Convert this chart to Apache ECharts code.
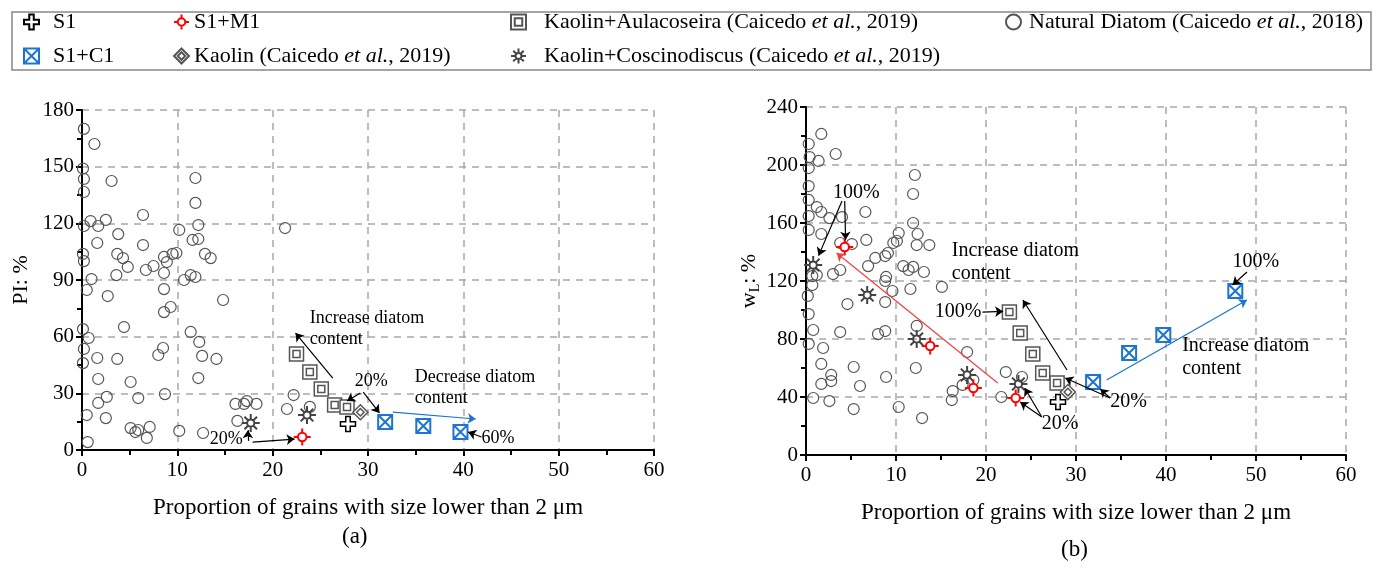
<!DOCTYPE html>
<html>
<head>
<meta charset="utf-8">
<script src="https://cdn.jsdelivr.net/npm/echarts@6/dist/echarts.min.js"></script>
<style>
  html, body { margin: 0; padding: 0; background: #fff; }
  #main { width: 1384px; height: 569px; }
</style>
</head>
<body>
<div id="main"></div>
<script>
// data: [proportion < 2 μm, value]
var natA = [[0.2,170],[1.3,162],[0.1,149],[0.2,143.5],[0.2,136.6],[3.1,142.4],[11.9,144],[11.9,130.8],[6.4,124.4],[0.2,118.6],[0.9,121.2],[1.7,118.6],[2.5,121.8],[3.8,114.3],[10.2,116.5],[12.2,119.1],[11.6,111.2],[12.2,111.7],[1.6,109.6],[6.4,108.5],[0.1,103.8],[0.2,100],[3.7,103.8],[4.3,101.6],[4.8,96.9],[8.6,102.2],[8.9,99.5],[9.5,103.8],[9.9,104.3],[7.5,97.4],[6.7,95.3],[8.6,93.7],[12.9,103.8],[13.5,101.6],[1.0,90.5],[3.6,92.6],[10.7,90],[11.4,92.6],[11.9,91.6],[21.3,117.5],[0.5,84.7],[8.6,85.2],[2.7,81.5],[9.3,75.7],[8.6,73],[14.8,79.4],[4.4,65.1],[0.1,64],[0.7,59.3],[0.2,53.5],[0.1,46],[1.6,48.7],[3.7,48.2],[11.4,62.5],[12.3,57.2],[12.6,49.8],[14.1,48.2],[8.5,54],[8.0,50.3],[12.2,38.1],[1.7,37.6],[5.1,36],[5.9,27.5],[2.6,28.1],[1.7,24.9],[8.7,29.6],[0.5,18.5],[2.5,16.9],[5.1,11.6],[5.6,9.5],[5.9,10.6],[7.1,12.2],[6.8,6.4],[10.2,10.1],[12.7,9],[0.6,4.2],[16.1,24.4],[16.3,15.4],[17.0,24.4],[17.3,25.9],[18.3,24.4],[21.5,21.7],[22.2,29.1],[23.9,22.8]];
var natB = [[1.7,221.4],[0.3,214.5],[3.3,207.6],[0.4,205.5],[1.4,202.8],[0.3,197.9],[0.3,185.5],[0.3,175.9],[1.2,171],[1.7,167.6],[0.3,164.8],[2.6,163.4],[4.0,164.1],[6.6,167.6],[0.3,155.2],[1.7,152.4],[6.7,148.3],[3.8,146.2],[5.1,145.5],[12.1,193.1],[11.9,180],[11.9,160],[12.4,152.4],[12.3,144.8],[13.7,144.8],[10.3,153.1],[10.1,147.6],[9.7,146.2],[9.1,139.3],[8.8,137.2],[7.7,135.9],[6.9,130.3],[3.8,127.6],[3.0,124.8],[1.2,124.1],[0.7,123.4],[10.8,130.3],[11.4,127.6],[11.9,129.7],[13.1,126.2],[8.9,122.8],[8.8,120],[15.1,115.9],[0.7,117.2],[0.2,109.7],[0.3,97.2],[0.8,86.2],[0.3,76.6],[4.6,104.1],[8.8,105.5],[9.6,113.1],[11.6,114.5],[12.3,89],[8.8,85.5],[8.0,83.4],[3.8,84.8],[1.9,73.8],[1.7,62.8],[5.3,60.7],[12.2,60],[2.8,55.2],[2.8,51],[1.7,49],[6.0,47.6],[8.9,53.8],[0.8,39.3],[2.6,37.2],[5.3,31.7],[10.3,33.1],[12.9,25.5],[17.9,71],[16.3,44.1],[16.2,37.9],[17.4,48.3],[18.6,51.7],[21.7,40],[22.2,57.2],[24.0,53.8]];

var s1A = [[27.9,13.8]];
var s1B = [[28.0,36.6]];
var s1m1A = [[23.1,6.9]];
var s1m1B = [[4.3,143.4],[13.8,75.2],[18.6,46.2],[23.3,39.3]];
var s1c1A = [[31.8,14.8],[35.8,12.7],[39.7,9.5]];
var s1c1B = [[31.9,50.3],[35.9,70.3],[39.7,82.8],[47.7,113.1]];
var aulA = [[22.5,50.8],[23.9,41.3],[25.1,32.3],[26.5,23.8],[27.8,22.8]];
var aulB = [[22.6,98.6],[23.8,84.1],[25.2,69.7],[26.3,56.6],[27.9,49.7]];
var kaoA = [[29.2,20]];
var kaoB = [[29.1,43.4]];
var cosA = [[17.7,14.3],[23.6,18.5]];
var cosB = [[0.8,131],[6.8,110.3],[12.3,80],[17.9,55.2],[23.6,49]];

// annotations (data coords): [x, y, text]
var textsA = [[23.9,75.5,'Increase diatom\ncontent'],[28.6,41.8,'20%'],[34.9,44,'Decrease diatom\ncontent'],[41.9,11.6,'60%'],[13.4,11,'20%']];
var textsB = [[3,189,'100%'],[16.2,148.5,'Increase diatom\ncontent'],[14.3,106.5,'100%'],[33.8,45,'20%'],[26.2,29.2,'20%'],[41.8,83,'Increase diatom\ncontent'],[47.4,141,'100%']];
// arrows: [from, to, colour]
var arrowsA = [[[26.3,38.1],[22.4,61.9],'#000'],[[29.2,30.2],[27.8,25.9],'#000'],[[29.5,30.7],[31.2,19.6],'#000'],[[32.6,20.1],[41.3,16.4],'#1c74d3'],[[41.9,6.9],[40.5,9.5],'#000'],[[17.4,4.8],[17.4,10.5],'#000'],[[17.9,4.2],[22.3,5.8],'#000']];
var arrowsB = [[[4,175.2],[1.4,137.5],'#000'],[[4.3,175.2],[4.4,148.5],'#000'],[[21.3,49.7],[3.4,139.3],'#f04040'],[[29,58.6],[24.1,106.9],'#000'],[[19.6,98.6],[21.9,99],'#000'],[[33.8,39.3],[28.8,53.1],'#000'],[[33.8,39.3],[32.7,45.5],'#000'],[[26.2,26.2],[24.3,46.2],'#000'],[[26.2,26.2],[23.8,36.6],'#000'],[[33.4,51.7],[49,106.9],'#1c74d3'],[[49,126.2],[47.4,117.2],'#000']];

var FONT = 'Liberation Serif';
var GRAY = '#555';
var BLUE = '#1c74d3';

// marker shapes
var crossPath = 'path://M7,0H13V7H20V13H13V20H7V13H0V7H7Z';
var ringPath = 'path://M10,0L10,5M10,15L10,20M0,10L5,10M15,10L20,10M15,10A5,5,0,1,1,5,10A5,5,0,1,1,15,10Z';
var boxXPath = 'path://M0,0H20V20H0ZM0,0L20,20M20,0L0,20';
var dblSquarePath = 'path://M0,0H20V20H0ZM5,5H15V15H5Z';
var dblDiamondPath = 'path://M10,0L20,10L10,20L0,10ZM10,5L15,10L10,15L5,10Z';
var sunPath = 'path://M14,10A4,4,0,1,1,6,10A4,4,0,1,1,14,10ZM10,0L10,6M10,14L10,20M0,10L6,10M14,10L20,10M3,3L7,7M13,13L17,17M17,3L13,7M7,13L3,17';

var names = {
  s1: 'S1', m1: 'S1+M1', c1: 'S1+C1',
  kao: 'Kaolin (Caicedo et al., 2019)',
  aul: 'Kaolin+Aulacoseira (Caicedo et al., 2019)',
  cos: 'Kaolin+Coscinodiscus (Caicedo et al., 2019)',
  nat: 'Natural Diatom (Caicedo et al., 2018)'
};

function sc(name, idx, data, symbol, size, color, bw, fill) {
  return {
    name: name, type: 'scatter', xAxisIndex: idx, yAxisIndex: idx,
    data: data, symbol: symbol, symbolSize: size,
    itemStyle: { color: fill || '#fff', borderColor: color, borderWidth: bw, opacity: 1 },
    emphasis: { disabled: true }, z: 3
  };
}

function arrowSeries(idx, list) {
  return {
    type: 'line', xAxisIndex: idx, yAxisIndex: idx, data: [], silent: true, z: 5,
    markLine: {
      silent: true, animation: false, symbol: ['none', 'arrow'], symbolSize: 8,
      label: { show: false },
      data: list.map(function (a) {
        return [{ coord: a[0], lineStyle: { color: a[2], width: 1.2, type: 'solid' }, itemStyle: { color: a[2] } }, { coord: a[1] }];
      })
    }
  };
}

function xAx(idx) {
  return {
    type: 'value', gridIndex: idx, min: 0, max: 60, interval: 10,
    name: 'Proportion of grains with size lower than 2 μm',
    nameLocation: 'middle', nameGap: 46,
    nameTextStyle: { fontFamily: FONT, fontSize: 23, color: '#000' },
    axisLine: { lineStyle: { color: '#000', width: 2 } },
    axisTick: { length: 6, lineStyle: { color: '#000', width: 2 } },
    minorTick: { show: true, splitNumber: 2, length: 5, lineStyle: { color: '#000', width: 2 } },
    axisLabel: { fontFamily: FONT, fontSize: 21, color: '#000', margin: 10 },
    splitLine: { lineStyle: { color: '#a8a8a8', type: [7, 6], width: 1.5 } }
  };
}

function yAx(idx, max, interval, name, gap) {
  return {
    type: 'value', gridIndex: idx, min: 0, max: max, interval: interval,
    name: name, nameLocation: 'middle', nameGap: gap,
    nameTextStyle: {
      fontFamily: FONT, fontSize: 22, color: '#000',
      rich: { b: { fontFamily: FONT, fontSize: 22, lineHeight: 26 },
              sub: { fontFamily: FONT, fontSize: 14, lineHeight: 26, verticalAlign: 'bottom', padding: [12, 0, 0, 0] } }
    },
    axisLine: { lineStyle: { color: '#000', width: 2 } },
    axisTick: { length: 6, lineStyle: { color: '#000', width: 2 } },
    minorTick: { show: true, splitNumber: 2, length: 5, lineStyle: { color: '#000', width: 2 } },
    axisLabel: { fontFamily: FONT, fontSize: 21, color: '#000', margin: 8 },
    splitLine: { lineStyle: { color: '#a8a8a8', type: [7, 6], width: 1.5 } }
  };
}

function legendCol(left, pad, data) {
  return {
    left: left, top: 6, orient: 'vertical', itemGap: 12, itemWidth: 15, itemHeight: 15,
    data: data, selectedMode: false,
    textStyle: {
      fontFamily: FONT, fontSize: 22, color: '#000', padding: [0, 0, 0, pad],
      rich: { i: { fontFamily: FONT, fontSize: 22, fontStyle: 'italic', color: '#000' } }
    },
    formatter: function (n) { return n.replace('et al.', '{i|et al.}'); }
  };
}

var chart = echarts.init(document.getElementById('main'));
var option = {
  animation: false,
  backgroundColor: '#fff',
  legend: [
    legendCol(18, 9, [names.s1, names.c1]),
    legendCol(168, 0, [names.m1, names.kao]),
    legendCol(505, 13, [names.aul, names.cos]),
    legendCol(1000, 3, [names.nat])
  ],
  grid: [
    { left: 82, right: 730, top: 110, bottom: 119 },
    { left: 806, right: 38, top: 107, bottom: 114 }
  ],
  xAxis: [xAx(0), xAx(1)],
  yAxis: [
    yAx(0, 180, 30, 'PI: %', 50),
    yAx(1, 240, 40, '{b|w}{sub|L}{b|: %}', 40)
  ],
  series: [
    sc(names.nat, 0, natA, 'circle', 11, GRAY, 1.2, 'rgba(0,0,0,0)'),
    sc(names.nat, 1, natB, 'circle', 11, GRAY, 1.2, 'rgba(0,0,0,0)'),
    sc(names.aul, 0, aulA, dblSquarePath, 14, GRAY, 1.5),
    sc(names.aul, 1, aulB, dblSquarePath, 14, GRAY, 1.5),
    sc(names.kao, 0, kaoA, dblDiamondPath, 15, GRAY, 1.5),
    sc(names.kao, 1, kaoB, dblDiamondPath, 15, GRAY, 1.5),
    sc(names.cos, 0, cosA, sunPath, 18, '#444', 2, 'rgba(0,0,0,0)'),
    sc(names.cos, 1, cosB, sunPath, 18, '#444', 2, 'rgba(0,0,0,0)'),
    sc(names.s1, 0, s1A, crossPath, 15, '#000', 1.5),
    sc(names.s1, 1, s1B, crossPath, 15, '#000', 1.5),
    sc(names.m1, 0, s1m1A, ringPath, 17, '#ff0000', 2),
    sc(names.m1, 1, s1m1B, ringPath, 17, '#ff0000', 2),
    sc(names.c1, 0, s1c1A, boxXPath, 14, BLUE, 2),
    sc(names.c1, 1, s1c1B, boxXPath, 14, BLUE, 2),
    arrowSeries(0, arrowsA),
    arrowSeries(1, arrowsB)
  ]
};
chart.setOption(option);

// text annotations placed through the axes, plus legend box and panel tags
function textEls(idx, list, size) {
  return list.map(function (t) {
    var p = chart.convertToPixel({ xAxisIndex: idx, yAxisIndex: idx }, [t[0], t[1]]);
    return {
      type: 'text', x: p[0], y: p[1], z: 10, silent: true,
      style: { text: t[2], fontFamily: FONT, fontSize: size, lineHeight: size + 3, fill: '#000', textVerticalAlign: 'top' }
    };
  });
}
var graphics = [
  { type: 'rect', shape: { x: 12, y: 12, width: 1359, height: 58 }, style: { fill: 'none', stroke: '#888', lineWidth: 1.5 }, z: 0, silent: true },
  { type: 'text', x: 342, y: 525, style: { text: '(a)', fontFamily: FONT, fontSize: 23, fill: '#000' }, silent: true },
  { type: 'text', x: 1061, y: 538, style: { text: '(b)', fontFamily: FONT, fontSize: 23, fill: '#000' }, silent: true }
].concat(textEls(0, textsA, 18), textEls(1, textsB, 20));
chart.setOption({ graphic: graphics });
</script>
</body>
</html>
